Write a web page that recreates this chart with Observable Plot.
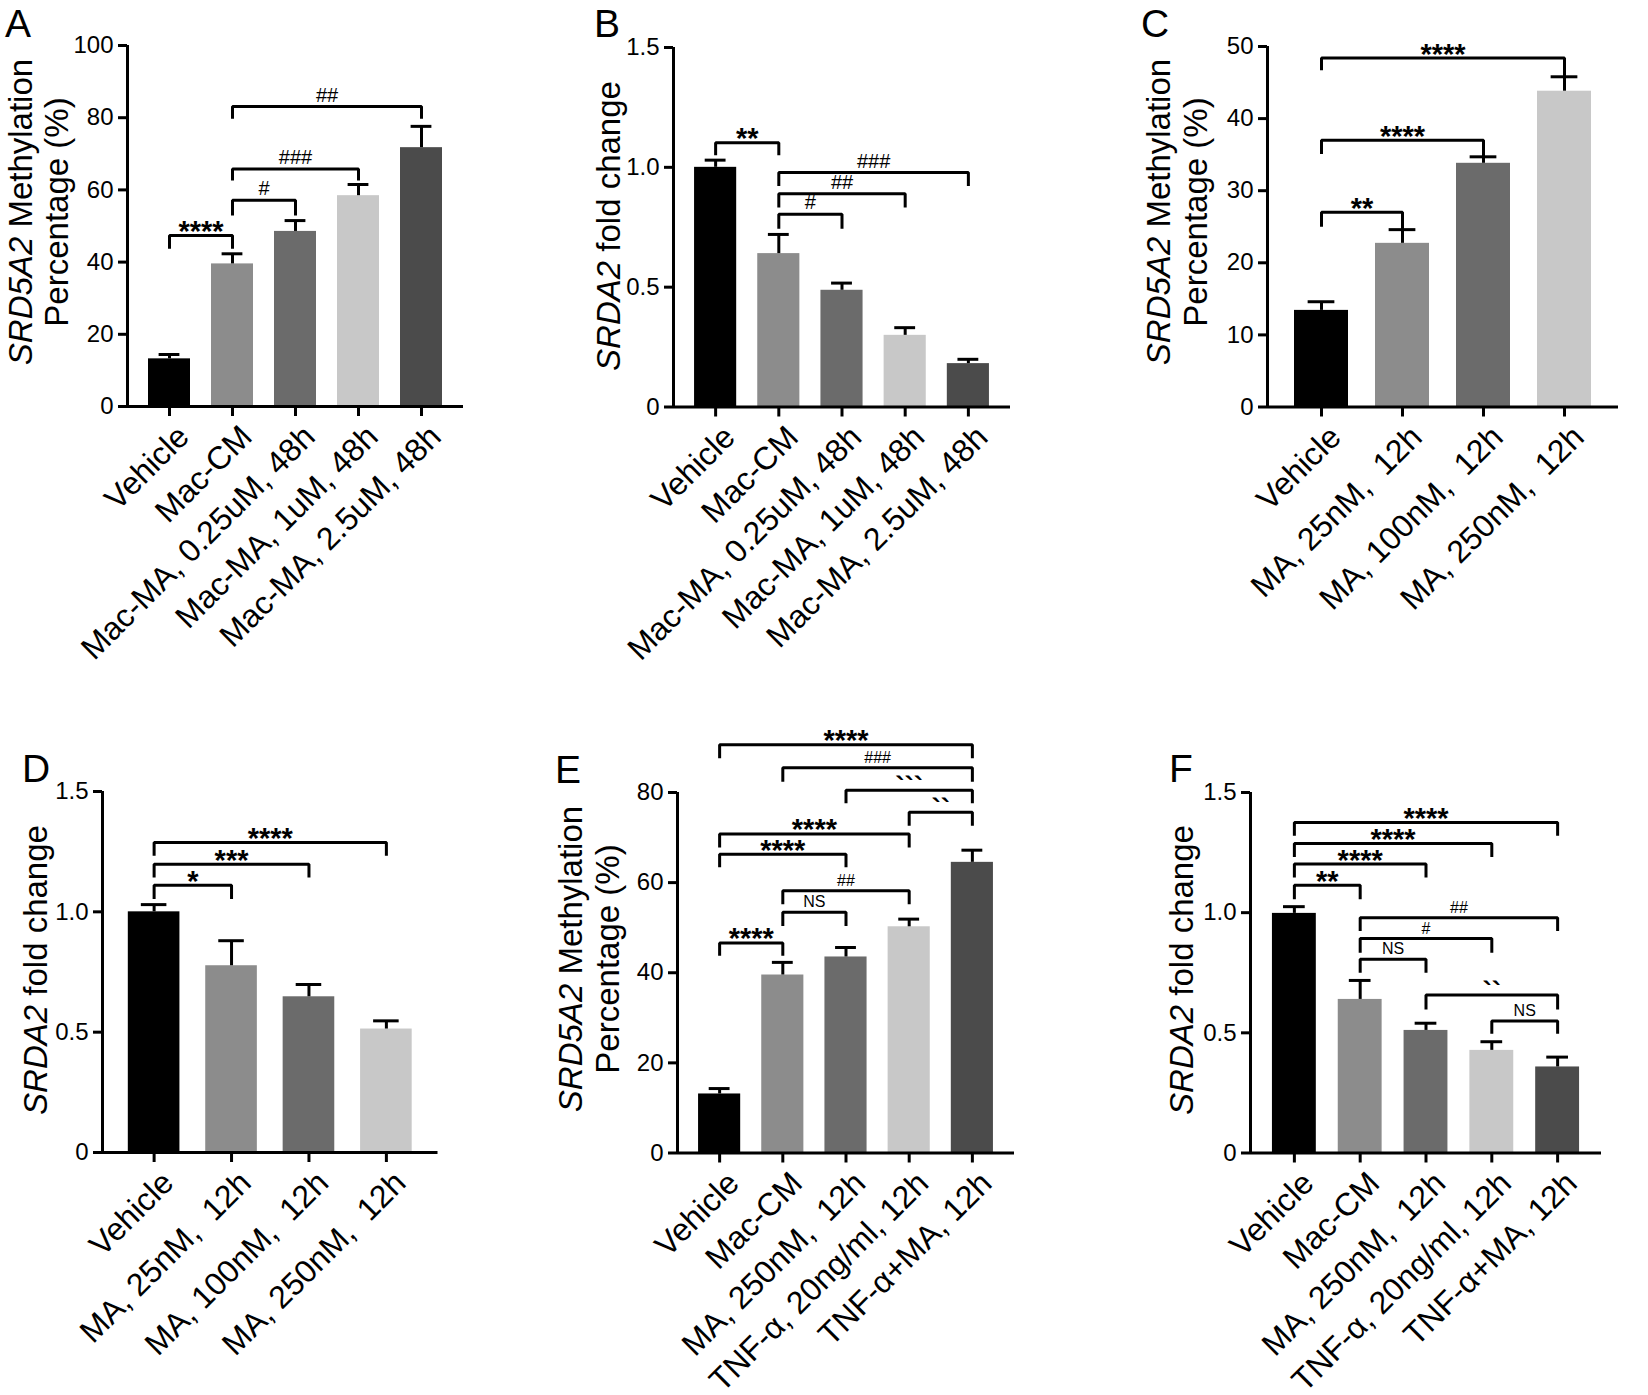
<!DOCTYPE html>
<html><head><meta charset="utf-8">
<script src="https://cdn.jsdelivr.net/npm/d3@7"></script>
<script src="https://cdn.jsdelivr.net/npm/@observablehq/plot@0.6"></script>
<style>
body{margin:0;background:#fff;}
#fig{position:relative;width:1648px;height:1395px;font-family:"Liberation Sans",Arial,sans-serif;background:#fff;}
#fig svg{position:absolute;overflow:visible;}
#fig svg text{white-space:pre;}
</style></head><body><div id="fig"></div>
<script>
// ---------- data ----------
const barColors = ["#000000", "#8c8c8c", "#6b6b6b", "#c8c8c8", "#4b4b4b"];

const catA = ["Vehicle", "Mac-CM", "Mac-MA, 0.25uM, 48h", "Mac-MA, 1uM, 48h", "Mac-MA, 2.5uM, 48h"];
const valA = [13.2, 39.5, 48.5, 58.4, 71.7];
const errA = [14.4, 42.3, 51.5, 61.5, 77.6];
const brA = [
  {from: 0, to: 1, y: 47.4, left: 43.7, right: 43.7, label: "****"},
  {from: 1, to: 2, y: 57.1, left: 52.9, right: 52.9, label: "#"},
  {from: 1, to: 3, y: 65.8, left: 62.6, right: 62.6, label: "###"},
  {from: 1, to: 4, y: 83.1, left: 79.7, right: 79.7, label: "##"}
];

const catB = ["Vehicle", "Mac-CM", "Mac-MA, 0.25uM, 48h", "Mac-MA, 1uM, 48h", "Mac-MA, 2.5uM, 48h"];
const valB = [1.0, 0.64, 0.487, 0.299, 0.181];
const errB = [1.03, 0.72, 0.517, 0.331, 0.199];
const brB = [
  {from: 0, to: 1, y: 1.103, left: 1.05, right: 1.05, label: "**"},
  {from: 1, to: 2, y: 0.804, left: 0.744, right: 0.744, label: "#"},
  {from: 1, to: 3, y: 0.89, left: 0.832, right: 0.832, label: "##"},
  {from: 1, to: 4, y: 0.978, left: 0.922, right: 0.922, label: "###"}
];

const catC = ["Vehicle", "MA, 25nM,  12h", "MA, 100nM,  12h", "MA, 250nM,  12h"];
const valC = [13.4, 22.7, 33.8, 43.8];
const errC = [14.6, 24.6, 34.7, 45.8];
const brC = [
  {from: 0, to: 1, y: 27.0, left: 25.0, right: 24.6, label: "**"},
  {from: 0, to: 2, y: 37.0, left: 35.1, right: 34.7, label: "****"},
  {from: 0, to: 3, y: 48.4, left: 46.7, right: 45.8, label: "****"}
];

const catD = ["Vehicle", "MA, 25nM,  12h", "MA, 100nM,  12h", "MA, 250nM,  12h"];
const valD = [1.0, 0.776, 0.647, 0.513];
const errD = [1.03, 0.88, 0.698, 0.547];
const brD = [
  {from: 0, to: 1, y: 1.11, left: 1.053, right: 1.053, label: "*"},
  {from: 0, to: 2, y: 1.198, left: 1.143, right: 1.143, label: "***"},
  {from: 0, to: 3, y: 1.288, left: 1.233, right: 1.233, label: "****"}
];

const catE = ["Vehicle", "Mac-CM", "MA, 250nM,  12h", "TNF-α, 20ng/ml, 12h", "TNF-α+MA, 12h"];
const valE = [13.1, 39.5, 43.5, 50.2, 64.5];
const errE = [14.3, 42.3, 45.6, 51.9, 67.2];
const brE = [
  {from: 0, to: 1, y: 46.6, left: 43.8, right: 43.8, label: "****"},
  {from: 1, to: 2, y: 53.4, left: 50.4, right: 50.4, label: "NS"},
  {from: 1, to: 3, y: 58.2, left: 55.2, right: 55.2, label: "##"},
  {from: 0, to: 2, y: 66.3, left: 63.4, right: 63.4, label: "****"},
  {from: 0, to: 3, y: 70.8, left: 67.8, right: 67.8, label: "****"},
  {from: 3, to: 4, y: 75.6, left: 72.6, right: 72.6, label: "``"},
  {from: 2, to: 4, y: 80.5, left: 77.6, right: 77.6, label: "```"},
  {from: 1, to: 4, y: 85.5, left: 82.4, right: 82.4, label: "###"},
  {from: 0, to: 4, y: 90.6, left: 87.6, right: 87.6, label: "****"}
];

const catF = ["Vehicle", "Mac-CM", "MA, 250nM,  12h", "TNF-α, 20ng/ml, 12h", "TNF-α+MA, 12h"];
const valF = [0.997, 0.639, 0.51, 0.427, 0.358];
const errF = [1.025, 0.718, 0.54, 0.463, 0.399];
const brF = [
  {from: 0, to: 1, y: 1.114, left: 1.056, right: 1.056, label: "**"},
  {from: 0, to: 2, y: 1.202, left: 1.146, right: 1.146, label: "****"},
  {from: 0, to: 3, y: 1.288, left: 1.232, right: 1.232, label: "****"},
  {from: 0, to: 4, y: 1.375, left: 1.32, right: 1.32, label: "****"},
  {from: 1, to: 4, y: 0.979, left: 0.924, right: 0.924, label: "##"},
  {from: 1, to: 3, y: 0.892, left: 0.833, right: 0.833, label: "#"},
  {from: 1, to: 2, y: 0.806, left: 0.75, right: 0.75, label: "NS"},
  {from: 2, to: 4, y: 0.657, left: 0.597, right: 0.597, label: "``"},
  {from: 3, to: 4, y: 0.549, left: 0.496, right: 0.496, label: "NS"}
];

const ticksPct100 = [0, 20, 40, 60, 80, 100];
const ticksPct50 = [0, 10, 20, 30, 40, 50];
const ticksPct80 = [0, 20, 40, 60, 80];
const ticksFold = [0, 0.5, 1.0, 1.5];

// ---------- drawing ----------
const FONT = "Liberation Sans, Arial, sans-serif";
const fig = d3.select("#fig");
const fmtFold = d => d === 0 ? "0" : d.toFixed(1);

function makePanel(p) {
  const n = p.cats.length;
  const x0 = -2 / 3, x1 = n - 1 + 2 / 3;
  const ML = 140, MR = 40, MT = 110, MB = 320;
  const width = ML + (p.xEnd - p.axisX) + MR;
  const height = MT + (p.yBottom - p.yTop) + MB;
  const bars = p.cats.map((c, i) => ({i, v: p.vals[i], e: p.errs[i], color: barColors[i]}));
  const pts = p.brackets.flatMap((b, k) => [
    {k, x: b.from, y: b.left}, {k, x: b.from, y: b.y},
    {k, x: b.to, y: b.y}, {k, x: b.to, y: b.right}
  ]);
  const mids = p.brackets.map(b => ({x: (b.from + b.to) / 2, y: b.y, label: b.label}));
  const half = 1 / 3, cap = 0.165;
  const hs = p.hashSize;
  const idx = d3.range(n);
  const svg = Plot.plot({
    width, height,
    marginLeft: ML, marginRight: MR, marginTop: MT, marginBottom: MB,
    x: {type: "linear", domain: [x0, x1]},
    y: {domain: [0, p.yMax]},
    style: {background: "none", fontFamily: FONT, overflow: "visible", color: "black"},
    marks: [
      Plot.rectY(bars, {x1: d => d.i - half, x2: d => d.i + half, y1: 0, y2: "v", fill: "color"}),
      Plot.ruleX(bars, {x: "i", y1: "v", y2: "e", strokeWidth: 3}),
      Plot.ruleY(bars, {y: "e", x1: d => d.i - cap, x2: d => d.i + cap, strokeWidth: 3}),
      Plot.line(pts, {x: "x", y: "y", z: "k", stroke: "black", strokeWidth: 3, strokeLinejoin: "miter", strokeLinecap: "butt"}),
      Plot.text(mids.filter(d => /^\*+$/.test(d.label)), {x: "x", y: "y", text: "label", fontSize: 29, fontWeight: "bold", dy: -3.8, fill: "black"}),
      Plot.text(mids.filter(d => /^#+$/.test(d.label)), {x: "x", y: "y", text: "label", fontSize: hs, dy: -5 - 0.32 * hs, fill: "black"}),
      Plot.text(mids.filter(d => d.label === "NS"), {x: "x", y: "y", text: "label", fontSize: 16, dy: -10, fill: "black"}),
      Plot.text(mids.filter(d => /^`+$/.test(d.label)), {x: "x", y: "y", text: "label", fontSize: 28, fontWeight: "bold", dy: -3, fill: "black"}),
      Plot.ruleX([x0], {strokeWidth: 3}),
      Plot.ruleY([0], {strokeWidth: 3}),
      Plot.axisY({ticks: p.yTicks, tickFormat: p.yFmt, tickSize: 9, tickPadding: 5, strokeWidth: 3, fontSize: 24, label: null}),
      Plot.axisX({ticks: idx, tickFormat: () => "", tickSize: 10, strokeWidth: 3, label: null}),
      Plot.axisX({ticks: idx, tickFormat: i => p.cats[i], tickSize: 0, tickPadding: 13, tickRotate: -45, dx: 14, dy: 12, fontSize: 32, label: null})
    ]
  });
  d3.select(svg).style("left", (p.axisX - ML) + "px").style("top", (p.yTop - MT) + "px");
  fig.node().appendChild(svg);
}

makePanel({cats: catA, vals: valA, errs: errA, brackets: brA, yMax: 100, yTicks: ticksPct100, yFmt: d => String(d), axisX: 127, xEnd: 463, yTop: 45, yBottom: 406, hashSize: 20});
makePanel({cats: catB, vals: valB, errs: errB, brackets: brB, yMax: 1.5, yTicks: ticksFold, yFmt: fmtFold, axisX: 673, xEnd: 1010, yTop: 46.5, yBottom: 406, hashSize: 20});
makePanel({cats: catC, vals: valC, errs: errC, brackets: brC, yMax: 50, yTicks: ticksPct50, yFmt: d => String(d), axisX: 1267, xEnd: 1618, yTop: 45.5, yBottom: 406, hashSize: 20});
makePanel({cats: catD, vals: valD, errs: errD, brackets: brD, yMax: 1.5, yTicks: ticksFold, yFmt: fmtFold, axisX: 102, xEnd: 437.5, yTop: 791, yBottom: 1152, hashSize: 16});
makePanel({cats: catE, vals: valE, errs: errE, brackets: brE, yMax: 80, yTicks: ticksPct80, yFmt: d => String(d), axisX: 677, xEnd: 1014, yTop: 791.5, yBottom: 1152, hashSize: 16});
makePanel({cats: catF, vals: valF, errs: errF, brackets: brF, yMax: 1.5, yTicks: ticksFold, yFmt: fmtFold, axisX: 1250, xEnd: 1601, yTop: 791.5, yBottom: 1152, hashSize: 16});

// ---------- panel letters and y-axis titles ----------
const overlay = fig.append("svg").attr("width", 1648).attr("height", 1395)
  .style("left", "0px").style("top", "0px").style("pointer-events", "none")
  .attr("font-family", FONT);

const panelLetters = [
  {t: "A", x: 5, y: 37}, {t: "B", x: 594, y: 37}, {t: "C", x: 1141, y: 37},
  {t: "D", x: 22, y: 782}, {t: "E", x: 555, y: 783}, {t: "F", x: 1169, y: 782}
];
overlay.selectAll("text.letter").data(panelLetters).join("text")
  .attr("class", "letter").attr("x", d => d.x).attr("y", d => d.y)
  .attr("font-size", 39).attr("fill", "black").text(d => d.t);

const methLines = [[{s: "SRD5A2", it: true}, {s: " Methylation"}], [{s: "Percentage (%)"}]];
const foldLines = [[{s: "SRDA2", it: true}, {s: " fold change"}]];
const yTitles = [
  {lines: methLines, xs: [32, 68], cy: 212},
  {lines: foldLines, xs: [620], cy: 226},
  {lines: methLines, xs: [1170, 1207], cy: 212},
  {lines: foldLines, xs: [47], cy: 970},
  {lines: methLines, xs: [582, 619], cy: 959},
  {lines: foldLines, xs: [1193], cy: 970}
];
yTitles.forEach(t => {
  t.lines.forEach((line, li) => {
    const x = t.xs[li];
    const txt = overlay.append("text")
      .attr("transform", `translate(${x},${t.cy}) rotate(-90)`)
      .attr("text-anchor", "middle").attr("font-size", 33).attr("fill", "black");
    line.forEach(part => {
      txt.append("tspan").attr("font-style", part.it ? "italic" : "normal").text(part.s);
    });
  });
});
</script>
</body></html>
